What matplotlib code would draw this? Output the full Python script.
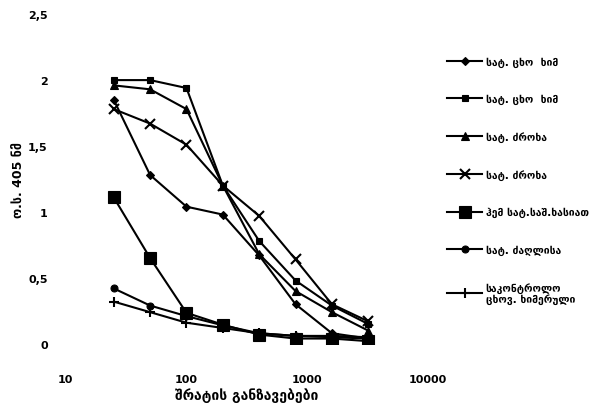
import matplotlib
matplotlib.use("Agg")
import matplotlib.pyplot as plt
from matplotlib.ticker import FuncFormatter, FixedLocator

dilutions = [25, 50, 100, 200, 400, 800, 1600, 3200]
s1 = [1.85, 1.28, 1.04, 0.98, 0.67, 0.30, 0.08, 0.04]
s2 = [2.00, 2.00, 1.94, 1.20, 0.78, 0.48, 0.29, 0.15]
s3 = [1.96, 1.93, 1.78, 1.20, 0.68, 0.40, 0.24, 0.10]
s4 = [1.78, 1.67, 1.51, 1.20, 0.97, 0.64, 0.30, 0.17]
s5 = [1.11, 0.65, 0.235, 0.145, 0.07, 0.04, 0.04, 0.02]
s6 = [0.42, 0.29, 0.21, 0.14, 0.08, 0.06, 0.06, 0.05]
s7 = [0.32, 0.24, 0.16, 0.12, 0.08, 0.06, 0.05, 0.04]

labels = ["სატ. ცხო  ხიმ", "სატ. ცხო  ხიმ", "სატ. ძროხა", "სატ. ძროხა",
          "ჰემ სატ.საშ.ხასიათ", "სატ. ძაღლისა", "საკონტროლო\nცხოვ. ხიმერული"]
x_ticks = [10, 100, 1000, 10000]
y_ticks = [0, 0.5, 1, 1.5, 2, 2.5]
xlabel = "შრატის განზავებები"
ylabel = "ო.ს. 405 ნმ"

plt.rcParams['font.family'] = ['DejaVu Sans']

fig = plt.figure(figsize=(5.92, 4.10), dpi=100)
ax = fig.add_axes([0.111, 0.159, 0.612, 0.804])

series = [s1, s2, s3, s4, s5, s6, s7]
markers = ['D', 's', '^', 'x', 's', 'o', '+']
msizes = [4.5, 5, 5.5, 7, 9, 5, 7]
for s, m, ms, lab in zip(series, markers, msizes, labels):
    ax.plot(dilutions, s, color='black', marker=m, markersize=ms, linewidth=1.5,
            markeredgewidth=1.5 if m in ('x', '+') else 0.8, label=lab)

ax.set_xscale('log')
ax.set_xlim(10, 10000)
ax.set_ylim(0, 2.5)
ax.xaxis.set_major_locator(FixedLocator(x_ticks))
ax.xaxis.set_minor_locator(FixedLocator([]))
ax.xaxis.set_major_formatter(FuncFormatter(lambda v, p: f"{int(v)}"))
ax.yaxis.set_major_locator(FixedLocator(y_ticks))
ax.yaxis.set_major_formatter(FuncFormatter(lambda v, p: (f"{v:g}").replace('.', ',')))
for sp in ax.spines.values():
    sp.set_visible(False)
ax.tick_params(axis='x', length=0, labelsize=8, pad=22)
ax.tick_params(axis='y', length=0, labelsize=8, pad=13)
for t in ax.get_xticklabels() + ax.get_yticklabels():
    t.set_fontweight('bold')
ax.set_xlabel(xlabel, fontsize=10, fontweight='bold', labelpad=2)
ax.set_ylabel(ylabel, fontsize=9, fontweight='bold', labelpad=2)

leg = fig.legend(loc='upper left', bbox_to_anchor=(0.755, 0.86), frameon=False,
                 fontsize=7.5, labelspacing=2.6, handlelength=3.4, handletextpad=0.3,
                 borderaxespad=0, borderpad=0)
for t in leg.get_texts():
    t.set_fontweight('bold')
leg.get_texts()[-1].set_linespacing(1.0)

fig.savefig('out.png', dpi=100)
